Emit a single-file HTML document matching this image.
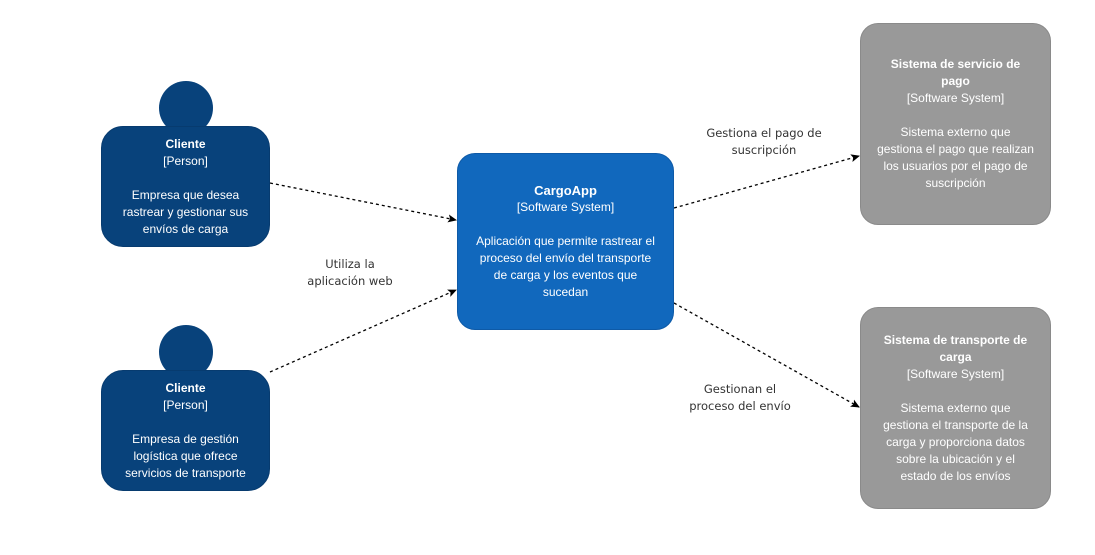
<!DOCTYPE html>
<html><head><meta charset="utf-8"><style>
body{margin:0;width:1095px;height:555px;background:#fff;position:relative;overflow:hidden;font-family:"Liberation Sans",Arial,sans-serif}
.b{position:absolute;color:#fff;font-size:12px;line-height:17px;text-align:center;box-sizing:border-box;display:flex;flex-direction:column;justify-content:center}
.head{position:absolute;width:54px;height:54px;border-radius:50%;background:#08427b}
.p{background:#08427b;border-radius:22px;width:169px;height:121px;left:101px;border:1px solid #073b6f}
.s{background:#999;border-radius:18px;width:191px;height:202px;left:860px;border:1px solid #8a8a8a;padding:0 4px}
.l{position:absolute;font-family:"DejaVu Sans",sans-serif;font-size:11.5px;line-height:17px;color:#333;text-align:center}
b{font-weight:bold}
</style></head><body>
<svg width="1095" height="555" style="position:absolute;left:0;top:0">
<defs><marker id="a" markerWidth="10" markerHeight="10" refX="8" refY="4" orient="auto" markerUnits="userSpaceOnUse"><path d="M0,0 L9,4 L0,8 L2,4z" fill="#000"/></marker></defs>
<g stroke="#000" stroke-width="1.3" stroke-dasharray="3,3" fill="none">
<line x1="270" y1="183" x2="456" y2="220" marker-end="url(#a)"/>
<line x1="270" y1="372" x2="456" y2="290" marker-end="url(#a)"/>
<line x1="674" y1="208" x2="859" y2="156" marker-end="url(#a)"/>
<line x1="674" y1="303" x2="859" y2="407" marker-end="url(#a)"/>
</g></svg>
<div class="head" style="left:159px;top:81px"></div>
<div class="b p" style="top:126px"><b>Cliente</b>[Person]<br><br>Empresa que desea<br>rastrear y gestionar sus<br>envíos de carga</div>
<div class="head" style="left:159px;top:325px"></div>
<div class="b p" style="top:370px"><b>Cliente</b>[Person]<br><br>Empresa de gestión<br>logística que ofrece<br>servicios de transporte</div>
<div class="b" style="left:457px;top:153px;width:217px;height:177px;background:#1168bd;border-radius:18px;border:1px solid #0e5aa7"><b style="font-size:13px">CargoApp</b>[Software System]<br><br>Aplicación que permite rastrear el<br>proceso del envío del transporte<br>de carga y los eventos que<br>sucedan</div>
<div class="b s" style="top:23px"><b>Sistema de servicio de<br>pago</b>[Software System]<br><br>Sistema externo que<br>gestiona el pago que realizan<br>los usuarios por el pago de<br>suscripción</div>
<div class="b s" style="top:307px"><b>Sistema de transporte de<br>carga</b>[Software System]<br><br>Sistema externo que<br>gestiona el transporte de la<br>carga y proporciona datos<br>sobre la ubicación y el<br>estado de los envíos</div>
<div class="l" style="left:290px;top:256px;width:120px">Utiliza la<br>aplicación web</div>
<div class="l" style="left:684px;top:125px;width:160px">Gestiona el pago de<br>suscripción</div>
<div class="l" style="left:670px;top:381px;width:140px">Gestionan el<br>proceso del envío</div>
</body></html>
